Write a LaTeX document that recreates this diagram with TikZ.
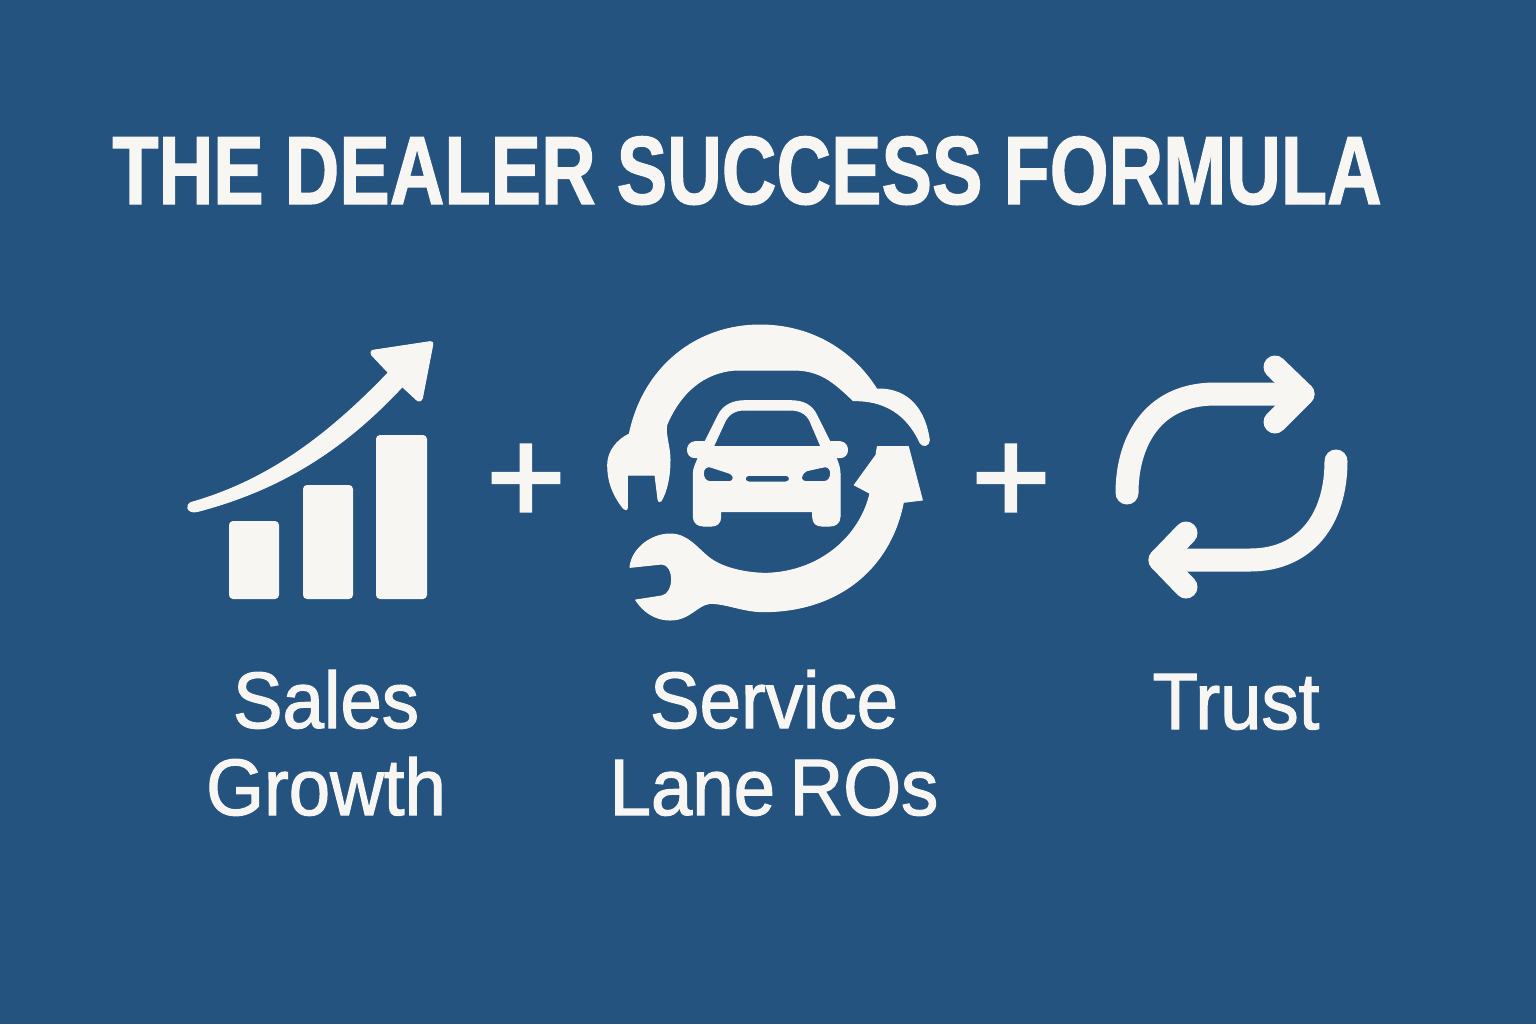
\documentclass[tikz,border=0pt]{standalone}
\usepackage{fontspec}
\setmainfont{Liberation Sans}
\newfontfamily\titlefont[FakeStretch=0.78,BoldFeatures={FakeBold=1.2}]{Liberation Sans}
\newfontfamily\labelfont[FakeStretch=0.93,FakeBold=1.5,WordSpace=0.7]{Liberation Sans}
\newfontfamily\signfont[FakeBold=2]{Liberation Sans}
\definecolor{fond}{HTML}{25537F}
\definecolor{ivoire}{HTML}{F7F6F3}
\tikzset{
  icone/.style={fill=ivoire,draw=ivoire,line width=.5pt,line join=round},
  barre/.style={fill=ivoire,rounded corners=2pt},
  trait/.style={draw=ivoire,line width=11.5pt,line cap=round,line join=round},
  libelle/.style={text=ivoire,anchor=base,align=center,inner sep=0pt,font=\labelfont\fontsize{40}{43.5}\selectfont},
  plus/.style={text=ivoire,inner sep=0pt,font=\signfont\fontsize{68}{68}\selectfont}
}
\begin{document}
\begin{tikzpicture}[x=.5pt,y=-.5pt]%
\useasboundingbox (0,0) rectangle (1536,1024);%%
\fill[fond] (0,0) rectangle (1536,1024);%%
%%TITRE
\node[text=ivoire,anchor=base west,inner sep=0pt,font=\titlefont\fontsize{48.5}{50}\selectfont\bfseries] (titre) at (112,204) {THE DEALER SUCCESS FORMULA};%%
%%VENTES
\fill[barre] (229,521) rectangle (279,599);%%
\fill[barre] (303,485) rectangle (353,599);%%
\fill[barre] (376,435) rectangle (427,599);%%
\begin{scope}[shift={(170,320)},x=.16667pt,y=-.16667pt]%
\path[icone] (65,547) .. controls (300,480) and (480,340) .. (655,158) -- (605,105) .. controls (600,95) and (605,90) .. (615,90) -- (780,65) .. controls (788,65) and (790,68) .. (788,75) -- (757,235) .. controls (752,245) and (745,245) .. (738,238) -- (697,200) .. controls (520,390) and (330,510) .. (80,575) .. controls (50,580) and (45,553) .. (65,547) -- cycle;%%
\end{scope}
%%SERVICE
\begin{scope}[shift={(590,310)},x=.16667pt,y=-.16667pt]%
\path[icone] (118,372) .. controls (160,170) and (320,45) .. (510,45) .. controls (650,45) and (780,110) .. (860,237) .. controls (930,235) and (1000,270) .. (1018,390) .. controls (1018,408) and (998,412) .. (990,398) .. controls (950,310) and (880,270) .. (790,272) .. controls (730,215) and (690,180) .. (610,180) -- (440,180) .. controls (340,185) and (270,250) .. (230,345) .. controls (225,375) and (240,410) .. (240,450) .. controls (240,500) and (230,545) .. (213,573) .. controls (208,577) and (205,575) .. (204,568) -- (195,495) -- (112,495) -- (112,592) .. controls (112,602) and (105,600) .. (100,595) .. controls (65,550) and (53,510) .. (53,465) .. controls (53,425) and (80,390) .. (118,372) -- cycle;%%
\path[icone] (862,410) -- (955,410) -- (997,570) -- (940,577) .. controls (900,780) and (740,905) .. (520,905) .. controls (460,905) and (410,880) .. (360,880) .. controls (320,885) and (300,930) .. (240,930) .. controls (195,930) and (160,905) .. (137,870) -- (215,858) .. controls (235,855) and (245,830) .. (245,810) .. controls (245,785) and (235,762) .. (215,762) -- (120,772) .. controls (125,715) and (185,672) .. (240,672) .. controls (295,672) and (320,715) .. (360,745) .. controls (400,775) and (470,790) .. (530,790) .. controls (690,785) and (810,680) .. (840,550) -- (793,525) -- (858,435) -- cycle;%%
\path[icone,even odd rule] (345,395) -- (385,315) .. controls (400,285) and (430,272) .. (465,272) -- (600,272) .. controls (640,272) and (665,285) .. (680,315) -- (720,395) -- (750,395) .. controls (780,397) and (780,443) .. (750,443) -- (738,443) .. controls (745,460) and (750,475) .. (750,490) -- (750,620) .. controls (750,640) and (735,648) .. (720,648) -- (695,648) .. controls (680,648) and (668,640) .. (668,620) -- (668,605) -- (392,605) -- (392,620) .. controls (392,640) and (380,648) .. (365,648) -- (340,648) .. controls (325,648) and (310,640) .. (310,620) -- (310,490) .. controls (310,475) and (318,460) .. (325,443) -- (315,443) .. controls (285,443) and (285,397) .. (315,395) -- cycle%%
  (370,410) -- (400,345) .. controls (412,315) and (430,300) .. (465,300) -- (600,300) .. controls (635,300) and (655,315) .. (665,345) -- (693,410) -- cycle%%
  (340,490) .. controls (340,475) and (350,468) .. (362,471) -- (420,490) .. controls (435,497) and (432,515) .. (418,515) -- (362,515) .. controls (348,515) and (340,505) .. (340,490) -- cycle%%
  (722,490) .. controls (722,475) and (712,468) .. (700,471) -- (650,482) .. controls (628,495) and (630,515) .. (648,515) -- (700,515) .. controls (714,515) and (722,505) .. (722,490) -- cycle%%
  (476,496) -- (588,496) .. controls (602,496) and (602,516) .. (588,516) -- (476,516) .. controls (462,516) and (462,496) .. (476,496) -- cycle;%%
\end{scope}
%%CONFIANCE
\draw[trait] (1127,493) .. controls (1127,445) and (1150,394) .. (1215,394) -- (1303,394);%%
\draw[trait] (1275,367) -- (1303,394) -- (1275,422);%%
\draw[trait] (1336,461) .. controls (1336,520) and (1305,560) .. (1250,560) -- (1160,560);%%
\draw[trait] (1186,533) -- (1160,560) -- (1186,587);%%
%%SIGNES
\node[plus] (plusa) at (526,484) {+};%%
\node[plus] (plusb) at (1011,484) {+};%%
%%LIBELLES
\node[libelle] (ventes) at (326,815) {Sales\\Growth};%%
\node[libelle] (service) at (774,815) {Service\\Lane ROs};%%
\node[libelle] (confiance) at (1236,729) {Trust};%%
\end{tikzpicture}
\end{document}
